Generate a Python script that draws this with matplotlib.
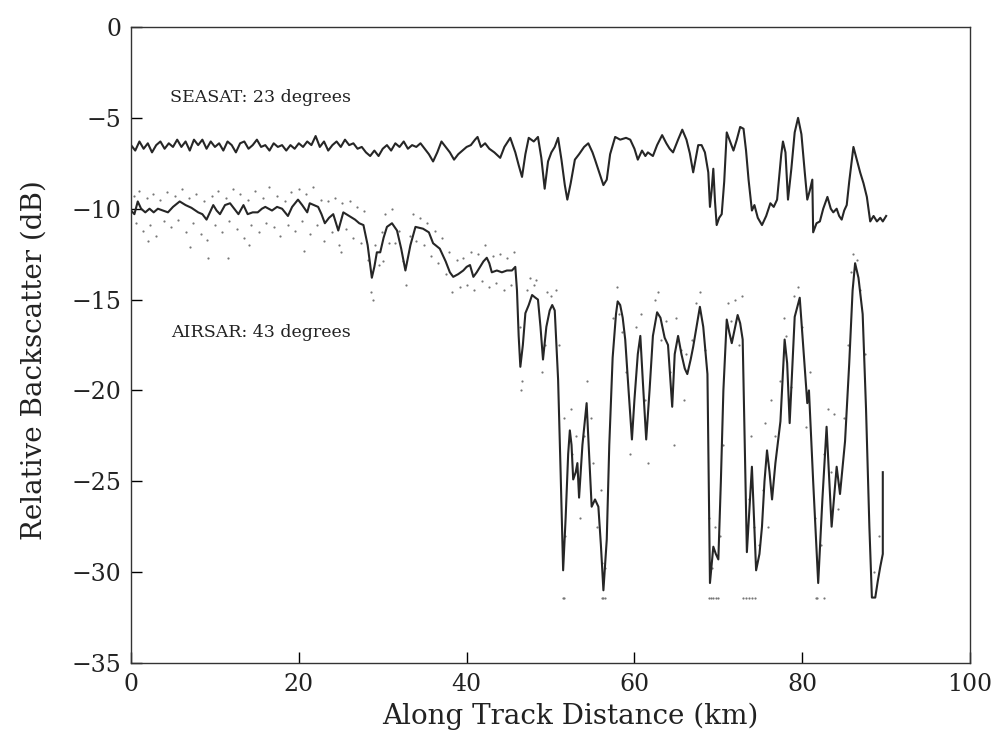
import matplotlib
matplotlib.use("Agg")
import matplotlib.pyplot as plt

plt.rcParams['font.family'] = ['DejaVu Serif']

# SEASAT trace (23 degrees), km / dB
seasat_km = [0.0, 0.5, 1.0, 1.5, 2.0, 2.5, 3.0, 3.5, 4.0, 4.5, 5.0, 5.5, 6.0, 6.5, 7.0, 7.5,
             8.0, 8.5, 9.0, 9.5, 10.0, 10.5, 11.0, 11.5, 12.0, 12.5, 13.0, 13.5, 14.0, 14.5,
             15.0, 15.5, 16.0, 16.5, 17.0, 17.5, 18.0, 18.5, 19.0, 19.5, 20.0, 20.5, 21.0,
             21.5, 22.0, 22.5, 23.0, 23.5, 24.0, 24.5, 25.0, 25.5, 26.0, 26.5, 27.0, 27.5,
             28.0, 28.5, 29.0, 29.5, 30.0, 30.5, 31.0, 31.5, 32.0, 32.5, 33.0, 33.5, 34.0,
             34.5, 35.0, 35.5, 36.0, 36.5, 37.0, 37.5, 38.0, 38.5, 39.0, 39.5, 40.0, 40.5,
             41.0, 41.3, 41.7, 42.2, 42.7, 43.3, 44.0, 44.5, 45.2, 45.8, 46.2, 46.6, 47.0,
             47.4, 48.0, 48.5, 48.9, 49.3, 49.7, 50.1, 50.5, 50.9, 51.3, 51.7, 52.0, 52.4,
             52.9, 53.4, 54.0, 54.5, 55.0, 55.3, 55.8, 56.3, 56.7, 57.1, 57.7, 58.3, 59.0,
             59.5, 60.0, 60.4, 60.9, 61.3, 61.6, 62.2, 62.7, 63.3, 63.8, 64.2, 64.6, 65.2,
             65.7, 66.2, 66.6, 67.0, 67.6, 68.0, 68.4, 68.8, 69.0, 69.2, 69.4, 69.6, 69.8,
             70.1, 70.4, 70.7, 71.0, 71.4, 71.8, 72.2, 72.6, 73.0, 73.3, 73.6, 74.0, 74.3,
             74.7, 75.2, 75.7, 76.2, 76.6, 77.0, 77.2, 77.5, 77.7, 78.0, 78.3, 78.7, 79.1,
             79.5, 79.9, 80.3, 80.6, 80.9, 81.2, 81.3, 81.7, 82.1, 82.5, 83.0, 83.4, 83.7,
             84.1, 84.4, 84.7, 85.0, 85.3, 85.6, 86.1, 86.5, 86.9, 87.3, 87.7, 88.1, 88.5,
             88.9, 89.3, 89.6, 90.0]
seasat_db = [-6.5, -6.8, -6.3, -6.7, -6.4, -6.9, -6.5, -6.3, -6.7, -6.4, -6.6, -6.2, -6.6,
             -6.3, -6.8, -6.2, -6.5, -6.2, -6.7, -6.3, -6.6, -6.4, -6.8, -6.3, -6.5, -6.9,
             -6.4, -6.3, -6.7, -6.5, -6.2, -6.6, -6.5, -6.8, -6.4, -6.6, -6.5, -6.8, -6.5,
             -6.7, -6.4, -6.6, -6.3, -6.5, -6.0, -6.6, -6.3, -6.8, -6.5, -6.3, -6.6, -6.2,
             -6.5, -6.4, -6.7, -6.6, -6.9, -7.1, -6.8, -7.1, -6.7, -6.5, -6.8, -6.4, -6.6,
             -6.3, -6.7, -6.5, -6.6, -6.4, -6.7, -7.0, -7.4, -6.9, -6.3, -6.6, -6.9, -7.3,
             -7.0, -6.8, -6.6, -6.5, -6.2, -6.05, -6.6, -6.4, -6.7, -6.9, -7.2, -6.6, -6.1,
             -6.9, -7.6, -8.25, -7.0, -6.1, -6.3, -6.05, -7.2, -8.9, -7.4, -6.9, -6.6, -6.1,
             -7.3, -8.7, -9.5, -8.6, -7.3, -7.0, -6.6, -6.4, -6.9, -7.3, -8.0, -8.7, -8.4,
             -7.0, -6.05, -6.2, -6.1, -6.2, -6.7, -7.3, -6.8, -7.1, -6.9, -7.1, -6.5, -5.95,
             -6.4, -6.7, -6.9, -6.2, -5.65, -6.2, -6.95, -8.0, -6.5, -6.5, -6.9, -8.0, -9.9,
             -9.0, -7.8, -9.6, -10.9, -10.5, -10.3, -8.5, -5.8, -6.3, -6.8, -6.2, -5.5, -5.6,
             -6.8, -8.4, -10.1, -9.8, -10.5, -10.9, -10.4, -9.7, -9.9, -9.5, -8.5, -7.0, -6.3,
             -6.9, -9.5, -7.8, -5.8, -5.0, -5.9, -8.0, -9.5, -9.0, -8.4, -11.3, -10.8, -10.7,
             -10.0, -9.35, -10.0, -10.2, -10.0, -10.4, -10.6, -10.1, -9.8, -8.5, -6.6, -7.3,
             -8.0, -8.6, -9.35, -10.7, -10.4, -10.7, -10.5, -10.7, -10.4]

# AIRSAR running mean (43 degrees), km / dB
airsar_km = [0.0, 0.4, 0.8, 1.2, 1.7, 2.2, 2.7, 3.2, 3.8, 4.4, 5.0, 5.8, 6.5, 7.2, 8.0, 8.5,
             9.0, 9.4, 9.8, 10.2, 10.6, 11.2, 11.8, 12.3, 12.8, 13.4, 13.9, 14.5, 15.1, 15.6,
             16.0, 16.8, 17.4, 18.0, 18.7, 19.2, 19.9, 20.4, 21.0, 21.3, 21.8, 22.3, 22.7,
             23.1, 23.6, 24.1, 24.7, 25.3, 26.0, 26.7, 27.2, 27.7, 28.2, 28.7, 29.0, 29.3,
             29.7, 30.1, 30.5, 31.1, 31.7, 32.2, 32.7, 33.3, 33.9, 34.8, 35.5, 36.0, 36.8,
             37.5, 38.0, 38.4, 39.0, 39.6, 40.0, 40.4, 40.8, 41.2, 41.6, 42.0, 42.4, 42.7,
             43.0, 43.6, 44.2, 44.8, 45.4, 45.8, 46.0, 46.2, 46.4, 46.7, 47.0, 47.4, 47.8,
             48.2, 48.5, 48.8, 49.1, 49.5, 49.9, 50.2, 50.5, 50.9, 51.2, 51.5, 51.8, 52.1,
             52.3, 52.5, 52.7, 53.0, 53.2, 53.4, 53.8, 54.3, 54.6, 54.9, 55.3, 55.7, 56.0,
             56.3, 56.7, 57.0, 57.4, 57.8, 58.0, 58.3, 58.6, 58.9, 59.3, 59.7, 60.0, 60.4,
             60.7, 61.0, 61.4, 61.8, 62.2, 62.7, 63.1, 63.6, 64.0, 64.5, 64.8, 65.2, 65.6,
             66.0, 66.3, 66.7, 67.0, 67.4, 67.8, 68.2, 68.7, 69.0, 69.4, 69.7, 70.0, 70.3,
             70.6, 71.0, 71.3, 71.6, 72.0, 72.3, 72.6, 72.9, 73.1, 73.4, 74.0, 74.2, 74.5,
             74.9, 75.2, 75.5, 75.8, 76.1, 76.4, 76.8, 77.4, 77.9, 78.2, 78.5, 79.1, 79.7,
             80.1, 80.6, 80.8, 81.3, 81.9, 82.4, 82.9, 83.5, 84.1, 84.5, 85.1, 85.6, 86.0,
             86.3, 86.7, 87.2, 87.6, 88.0, 88.3, 88.7, 89.0, 89.3, 89.6, 89.6]
airsar_db = [-10.1, -10.3, -9.6, -10.0, -10.2, -10.0, -10.2, -10.0, -10.1, -10.2, -9.9,
             -9.6, -9.8, -9.95, -10.2, -10.3, -10.6, -10.2, -9.8, -10.1, -10.3, -9.8, -9.7,
             -10.0, -10.3, -9.8, -10.3, -10.2, -10.2, -10.0, -9.9, -10.1, -9.9, -10.0, -10.4,
             -9.9, -9.5, -9.8, -10.2, -9.7, -9.8, -9.9, -10.3, -10.8, -10.5, -10.3, -11.2,
             -10.2, -10.4, -10.6, -10.8, -10.9, -12.0, -13.8, -13.2, -12.4, -12.4, -11.6,
             -11.0, -10.8, -11.2, -12.2, -13.4, -12.0, -11.0, -11.1, -11.3, -11.9, -12.2,
             -12.9, -13.5, -13.75, -13.6, -13.4, -13.2, -13.1, -13.75, -13.5, -13.2, -12.9,
             -12.7, -13.0, -13.5, -13.4, -13.5, -13.4, -13.4, -13.2, -14.5, -17.0, -18.7,
             -17.5, -15.75, -15.3, -14.75, -14.9, -15.0, -16.5, -18.3, -16.5, -15.6, -15.3,
             -15.6, -19.4, -24.5, -29.9, -27.0, -23.5, -22.2, -23.0, -24.9, -24.5, -24.0,
             -25.9, -23.0, -20.7, -23.5, -26.4, -26.0, -26.4, -28.5, -31.0, -28.2, -23.0,
             -18.2, -15.8, -15.1, -15.3, -16.0, -17.2, -20.0, -22.7, -20.5, -18.0, -17.0,
             -19.5, -22.7, -20.0, -17.0, -15.7, -16.0, -17.1, -17.5, -20.9, -18.0, -17.0,
             -18.0, -18.8, -19.1, -18.3, -17.6, -16.5, -15.4, -16.5, -19.1, -30.6, -28.6,
             -29.0, -29.3, -25.0, -20.0, -16.1, -16.8, -17.4, -16.5, -15.85, -16.3, -17.2,
             -22.0, -28.9, -24.2, -26.5, -29.9, -29.0, -27.5, -25.0, -23.3, -24.5, -26.0,
             -24.0, -21.7, -17.2, -18.5, -21.8, -15.95, -14.9, -17.5, -20.7, -20.0, -25.0,
             -30.6, -26.0, -22.0, -27.5, -24.2, -25.7, -22.8, -18.5, -14.5, -13.0, -13.8,
             -15.8, -21.0, -27.5, -31.4, -31.4, -30.5, -29.7, -29.0, -24.5]

# AIRSAR individual samples (grey dots)
dots_km = [0.3, 0.6, 1.0, 1.4, 1.9, 2.3, 2.6, 3.0, 3.5, 3.9, 4.3, 4.8, 5.2, 5.6, 6.1, 6.5,
           6.9, 7.4, 7.8, 8.3, 8.7, 9.1, 9.6, 10.0, 10.4, 10.9, 11.3, 11.7, 12.1, 12.6, 13.0,
           13.5, 13.9, 14.3, 14.8, 15.2, 15.7, 16.1, 16.5, 17.0, 17.4, 17.8, 18.3, 18.7,
           19.1, 19.6, 20.0, 20.4, 20.9, 21.3, 21.7, 22.2, 22.6, 23.0, 23.5, 23.9, 24.3,
           24.8, 25.2, 25.6, 26.1, 26.5, 26.9, 27.4, 27.8, 28.2, 28.6, 28.8, 29.1, 29.5,
           29.9, 30.3, 30.7, 31.1, 31.5, 31.9, 32.4, 32.8, 33.2, 33.6, 34.0, 34.5, 34.9,
           35.3, 35.8, 36.2, 36.6, 37.1, 37.5, 37.9, 38.3, 38.8, 39.2, 39.6, 40.1, 40.5,
           40.9, 41.4, 41.8, 42.2, 42.7, 43.1, 43.5, 44.0, 44.4, 44.8, 45.3, 45.7, 11.5,
           9.2, 20.6, 2.0, 7.0, 14.0, 25.0, 30.0,
           46.3, 46.5, 46.6, 47.2, 47.6, 48.0, 48.3, 49.0, 49.3, 49.6, 50.1, 50.6, 51.0,
           51.6, 51.7, 52.4, 52.6, 53.0, 53.5, 54.0, 54.4, 54.8, 55.1, 55.5, 56.0, 56.1,
           56.5, 57.5, 57.9, 58.2, 58.5, 59.0, 59.5, 60.2, 60.8, 61.2, 61.6, 62.4, 62.8,
           63.2, 63.8, 64.2, 64.7, 65.0, 65.5, 65.9, 66.2, 66.8, 67.3, 67.8, 68.4, 68.9,
           69.3, 69.6, 70.2, 70.5, 71.2, 71.5, 72.0, 72.5, 72.8, 73.6, 73.9, 74.3, 74.8,
           75.3, 75.6, 75.9, 76.3, 76.8, 77.3, 77.8, 78.1, 78.6, 79.0, 79.5, 80.0, 80.4,
           80.9, 81.5, 82.2, 82.6, 83.1, 83.4, 83.8, 84.3, 85.0, 85.4, 85.8, 86.1, 86.5,
           86.9, 87.5, 88.5, 89.1,
           51.5, 51.6, 56.1, 56.3, 56.5, 68.9, 69.1, 69.4, 69.7, 70.0, 72.9, 73.3, 73.6,
           74.0, 74.4, 81.6, 81.8, 82.6]
dots_db = [-9.3, -10.8, -9.0, -11.2, -9.4, -10.9, -9.2, -11.5, -9.5, -10.7, -9.1, -11.0,
           -9.3, -10.6, -8.9, -11.3, -9.4, -10.8, -9.2, -11.4, -9.6, -11.7, -9.3, -10.9,
           -9.0, -11.3, -9.4, -10.7, -8.9, -11.1, -9.2, -11.6, -9.5, -10.9, -9.0, -11.3,
           -9.4, -10.8, -8.8, -11.0, -9.3, -11.5, -9.6, -10.9, -9.1, -11.2, -8.9, -10.7,
           -9.2, -11.4, -8.8, -10.9, -9.5, -11.8, -9.6, -11.3, -9.4, -12.0, -9.7, -11.1,
           -9.6, -11.6, -9.9, -11.9, -10.1, -12.8, -14.6, -15.0, -12.0, -13.1, -11.3, -10.3,
           -11.9, -10.0, -11.9, -11.2, -12.9, -14.2, -11.5, -10.3, -11.8, -10.5, -12.0,
           -10.8, -12.6, -11.2, -13.0, -11.6, -13.6, -12.4, -14.6, -12.8, -14.3, -12.7,
           -14.2, -12.4, -14.5, -12.5, -14.0, -12.0, -14.3, -12.6, -14.1, -12.5, -14.5,
           -12.7, -14.2, -12.4, -12.7, -12.7, -12.3, -11.8, -12.1, -12.0, -12.4, -12.9,
           -16.5, -20.0, -19.5, -14.5, -13.8, -14.2, -13.9, -19.0, -17.5, -14.6, -14.8,
           -14.5, -17.5, -21.5, -28.0, -21.0, -23.5, -22.5, -27.0, -22.5, -19.5, -21.5,
           -24.0, -27.5, -25.5, -29.5, -29.8, -16.0, -14.3, -15.8, -16.8, -19.0, -23.5,
           -16.5, -15.8, -20.5, -24.0, -15.0, -14.6, -17.2, -16.2, -19.0, -23.0, -16.0,
           -17.8, -20.5, -18.0, -17.2, -15.2, -14.6, -17.8, -27.0, -29.8, -27.5, -28.0,
           -23.0, -15.2, -16.2, -15.0, -17.5, -14.8, -26.0, -22.5, -27.5, -28.5, -25.5,
           -21.8, -27.5, -20.5, -22.5, -19.5, -16.0, -17.0, -19.8, -14.8, -14.3, -16.5,
           -22.0, -19.0, -27.0, -28.5, -23.5, -21.0, -24.5, -21.3, -26.5, -21.5, -17.5,
           -13.5, -12.5, -12.8, -14.5, -18.0, -30.0, -28.0,
           -31.4, -31.4, -31.4, -31.4, -31.4, -31.4, -31.4, -31.4, -31.4, -31.4, -31.4,
           -31.4, -31.4, -31.4, -31.4, -31.4, -31.4, -31.4]

fig = plt.figure(figsize=(9.98, 7.44), dpi=100)
ax = fig.add_axes([0.1313, 0.1089, 0.8407, 0.8548])

ax.scatter(dots_km, dots_db, s=2.5, color='#777777', linewidths=0, zorder=1)
ax.plot(seasat_km, seasat_db, color='#262626', lw=1.5, zorder=2)
ax.plot(airsar_km, airsar_db, color='#262626', lw=1.5, zorder=2)

ax.text(4.6, -3.9, 'SEASAT: 23 degrees', fontsize=12.5, va='center', ha='left',
        color='#222222')
ax.text(4.8, -16.8, 'AIRSAR: 43 degrees', fontsize=12.5, va='center', ha='left',
        color='#222222')

ax.set_xlim(0, 100)
ax.set_ylim(-35, 0)
ax.set_xticks([0, 20, 40, 60, 80, 100])
ax.set_yticks([0, -5, -10, -15, -20, -25, -30, -35])
ax.set_yticklabels(['0', '\u22125', '\u221210', '\u221215', '\u221220', '\u221225',
                    '\u221230', '\u221235'])
ax.tick_params(direction='in', length=8, width=1, labelsize=17, top=False, right=False,
               pad=7, labelcolor='#222222')
for sp in ax.spines.values():
    sp.set_linewidth(1.0)
    sp.set_color('#333333')

ax.set_xlabel('Along Track Distance (km)', fontsize=20, color='#222222')
ax.set_ylabel('Relative Backscatter (dB)', fontsize=20, color='#222222')
ax.xaxis.set_label_coords(0.523, -0.062)
ax.yaxis.set_label_coords(-0.100, 0.476)

fig.savefig('out.png', dpi=100)
